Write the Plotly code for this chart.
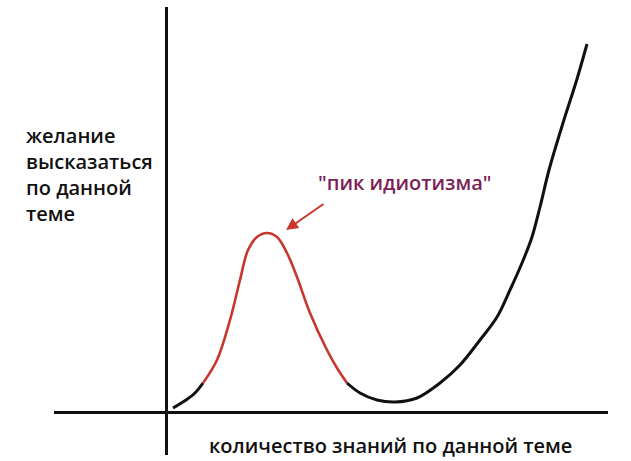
import plotly.graph_objects as go

# knowledge of the topic (x) and desire to speak on it (y), arbitrary units
knowledge = [7, 20, 29, 37, 51, 64, 74, 82, 91, 101, 111, 121, 131, 144, 161, 171, 181,
             194, 211, 229, 251, 274, 294, 314, 331, 344, 356, 366, 374, 383, 397, 411, 421]
desire = [4, 12, 19, 29, 52, 92, 132, 162, 175, 179, 175, 159, 135, 99, 62, 44, 29,
          19, 12, 10, 14, 29, 47, 72, 95, 122, 149, 175, 205, 242, 289, 333, 368]
red_start, red_end = 3, 16

y_label = "желание<br>высказаться<br>по данной<br>теме"
x_label = "количество знаний по данной теме"
peak_label = "\"пик идиотизма\""
peak_index = 9

BLACK = "#111111"
RED = "#c8372d"
PURPLE = "#7d1f56"
FONT = "Open Sans"

fig = go.Figure()
segments = [(0, red_start, BLACK), (red_start, red_end, RED), (red_end, len(knowledge) - 1, BLACK)]
for a, b, col in segments:
    fig.add_trace(go.Scatter(
        x=knowledge[a:b + 1], y=desire[a:b + 1], mode="lines",
        line=dict(color=col, width=2.6 if col == RED else 3, shape="spline", smoothing=1.0),
        hoverinfo="skip", showlegend=False))

fig.update_layout(
    width=631, height=461,
    margin=dict(l=54, r=23, t=7, b=6),
    paper_bgcolor="white", plot_bgcolor="white",
    showlegend=False,
    xaxis=dict(range=[-112, 442], showgrid=False, showticklabels=False, ticks="",
               zeroline=True, zerolinecolor=BLACK, zerolinewidth=3, showline=False),
    yaxis=dict(range=[-43, 405], showgrid=False, showticklabels=False, ticks="",
               zeroline=True, zerolinecolor=BLACK, zerolinewidth=3, showline=False),
)

# axis titles
fig.add_annotation(x=-0.054, y=0.748, xref="paper", yref="paper", text=y_label, showarrow=False,
                   xanchor="left", yanchor="top", align="left",
                   font=dict(family=FONT, size=20, color=BLACK, weight=600))
fig.add_annotation(x=224, y=-33, xref="x", yref="y", text=x_label, showarrow=False,
                   xanchor="center", yanchor="middle",
                   font=dict(family=FONT, size=20, color=BLACK, weight=600))

# peak label
fig.add_annotation(x=239, y=230, xref="x", yref="y", text=peak_label, showarrow=False,
                   xanchor="center", yanchor="middle",
                   font=dict(family=FONT, size=20, color=PURPLE, weight=600))
# arrow to the peak
fig.add_annotation(x=knowledge[peak_index] + 19, y=desire[peak_index] + 3,
                   ax=159, ay=209, xref="x", yref="y", axref="x", ayref="y",
                   text="", showarrow=True, arrowhead=2, arrowsize=1.2,
                   arrowwidth=2, arrowcolor=RED)

fig.write_html("out.html", config={"displayModeBar": False},
               post_script="document.body.style.margin='0';")
